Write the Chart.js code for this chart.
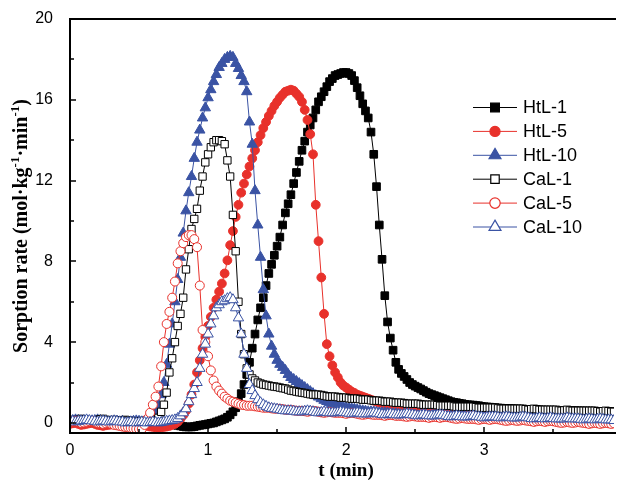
<!DOCTYPE html>
<html><head><meta charset="utf-8">
<script src="https://cdn.jsdelivr.net/npm/chart.js@4.4.1/dist/chart.umd.min.js"></script>
<style>html,body{margin:0;padding:0;background:#fff;overflow:hidden}#wrap{width:621px;height:488px;position:relative}canvas{display:block}</style>
</head><body><div id="wrap"><canvas id="c" width="621" height="488" style="width:621px;height:488px"></canvas></div>
<script>
// ---- data ----
const times = [0,0.02,0.04,0.06,0.08,0.1,0.12,0.14,0.16,0.18,
0.2,0.22,0.24,0.26,0.28,0.3,0.32,0.34,0.36,0.38,
0.4,0.42,0.44,0.46,0.48,0.5,0.52,0.54,0.56,0.58,
0.6,0.62,0.64,0.66,0.68,0.7,0.72,0.74,0.76,0.78,
0.8,0.82,0.84,0.86,0.88,0.9,0.92,0.94,0.96,0.98,
1,1.02,1.04,1.06,1.08,1.1,1.12,1.14,1.16,1.18,
1.2,1.22,1.24,1.26,1.28,1.3,1.32,1.34,1.36,1.38,
1.4,1.42,1.44,1.46,1.48,1.5,1.52,1.54,1.56,1.58,
1.6,1.62,1.64,1.66,1.68,1.7,1.72,1.74,1.76,1.78,
1.8,1.82,1.84,1.86,1.88,1.9,1.92,1.94,1.96,1.98,
2,2.02,2.04,2.06,2.08,2.1,2.12,2.14,2.16,2.18,
2.2,2.22,2.24,2.26,2.28,2.3,2.32,2.34,2.36,2.38,
2.4,2.42,2.44,2.46,2.48,2.5,2.52,2.54,2.56,2.58,
2.6,2.62,2.64,2.66,2.68,2.7,2.72,2.74,2.76,2.78,
2.8,2.82,2.84,2.86,2.88,2.9,2.92,2.94,2.96,2.98,
3,3.02,3.04,3.06,3.08,3.1,3.12,3.14,3.16,3.18,
3.2,3.22,3.24,3.26,3.28,3.3,3.32,3.34,3.36,3.38,
3.4,3.42,3.44,3.46,3.48,3.5,3.52,3.54,3.56,3.58,
3.6,3.62,3.64,3.66,3.68,3.7,3.72,3.74,3.76,3.78,
3.8,3.82,3.84,3.86,3.88,3.9,3.92,3.94];

const htl1 = [0.05,0.08,0.1,0.06,0.05,0.02,0,0.03,0.05,0.08,
0.1,0.07,0.05,0.02,0,0.03,0.05,0.02,0,-0.02,
-0.05,-0.02,0,0.03,0.05,0.02,0,-0.03,-0.05,-0.02,
0,-0.03,-0.05,-0.08,-0.1,-0.07,-0.05,-0.08,-0.1,-0.12,
-0.15,-0.18,-0.2,-0.2,-0.2,-0.18,-0.15,-0.12,-0.1,-0.08,
-0.05,-0.02,0,0.05,0.1,0.15,0.2,0.28,0.4,0.55,
0.75,1.05,1.45,1.9,2.4,3.0,3.7,4.4,5.1,5.7,
6.2,6.8,7.4,7.85,8.3,8.75,9.2,9.8,10.4,10.85,
11.3,11.85,12.4,12.95,13.5,13.95,14.4,14.75,15.1,15.5,
15.9,16.15,16.4,16.65,16.9,17.05,17.2,17.25,17.3,17.35,
17.35,17.3,17.2,16.95,16.6,16.2,15.8,15.45,15.1,14.4,
13.3,11.7,9.8,8.1,6.3,5.0,4.2,3.6,3.0,2.65,
2.45,2.3,2.15,2.0,1.9,1.82,1.75,1.68,1.6,1.52,
1.45,1.4,1.35,1.3,1.25,1.2,1.15,1.1,1.05,1.02,
1.0,0.97,0.95,0.92,0.9,0.89,0.88,0.86,0.85,0.82,
0.8,0.79,0.78,0.76,0.75,0.74,0.73,0.72,0.72,0.71,
0.7,0.69,0.68,0.68,0.67,0.66,0.66,0.65,0.65,0.64,
0.64,0.63,0.63,0.62,0.62,0.62,0.62,0.61,0.61,0.61,
0.6,0.6,0.6,0.6,0.59,0.59,0.58,0.58,0.58,0.58,
0.57,0.57,0.57,0.56,0.56,0.56,0.56,0.55];

const htl5 = [-0.05,-0.02,0,-0.05,-0.1,-0.08,-0.05,-0.02,0,-0.05,
-0.1,-0.12,-0.15,-0.12,-0.1,-0.08,-0.05,-0.08,-0.1,-0.12,
-0.15,-0.18,-0.2,-0.18,-0.15,-0.12,-0.1,-0.12,-0.15,-0.18,
-0.2,-0.22,-0.25,-0.22,-0.2,-0.18,-0.15,-0.1,-0.05,0.05,
0.2,0.38,0.6,0.95,1.4,1.9,2.5,3.1,3.7,4.25,
4.8,5.25,5.7,6.1,6.5,6.9,7.4,8.05,8.8,9.5,
10.2,10.8,11.4,11.85,12.3,12.7,13.1,13.5,13.9,14.25,
14.6,14.9,15.2,15.45,15.7,15.9,16.1,16.25,16.4,16.45,
16.5,16.45,16.3,16.15,15.9,15.5,15.0,14.3,13.3,10.8,
9.0,7.2,5.4,3.9,3.3,2.85,2.5,2.25,2.0,1.85,
1.75,1.65,1.55,1.48,1.4,1.35,1.3,1.25,1.2,1.15,
1.1,1.05,1.0,0.98,0.95,0.92,0.9,0.88,0.85,0.82,
0.8,0.78,0.75,0.72,0.7,0.68,0.65,0.62,0.6,0.58,
0.55,0.55,0.55,0.52,0.5,0.48,0.45,0.48,0.5,0.48,
0.45,0.42,0.4,0.38,0.35,0.38,0.4,0.38,0.35,0.32,
0.3,0.32,0.35,0.32,0.3,0.28,0.25,0.28,0.3,0.28,
0.25,0.22,0.2,0.22,0.25,0.22,0.2,0.18,0.15,0.18,
0.2,0.18,0.15,0.18,0.2,0.18,0.15,0.12,0.1,0.12,
0.15,0.12,0.1,0.12,0.15,0.12,0.1,0.08,0.05,0.08,
0.1,0.08,0.05,0.08,0.1,0.08,0.05,0.08];

const htl10 = [0.1,0.12,0.15,0.12,0.1,0.08,0.05,0.08,0.1,0.12,
0.15,0.12,0.1,0.08,0.05,0.08,0.1,0.08,0.05,0.08,
0,0.02,0.05,0.08,0.1,0.08,0.05,0.08,0.1,0.15,
0.3,0.55,0.9,1.4,2.0,2.9,3.9,4.9,6.0,7.1,
8.2,9.4,10.5,11.4,12.2,13.1,13.9,14.5,15.1,15.6,
16.1,16.5,16.9,17.25,17.6,17.8,18.0,18.1,18.15,18.1,
17.8,17.55,17.2,16.9,16.4,14.9,13.8,11.5,9.8,8.2,
6.6,5.3,4.4,3.8,3.4,3.1,2.9,2.75,2.6,2.4,
2.25,2.15,2.05,1.95,1.85,1.75,1.65,1.55,1.45,1.35,
1.28,1.2,1.12,1.06,1.0,0.95,0.9,0.85,0.8,0.78,
0.75,0.72,0.7,0.68,0.65,0.62,0.6,0.58,0.55,0.55,
0.55,0.52,0.5,0.5,0.5,0.48,0.45,0.45,0.45,0.42,
0.4,0.42,0.45,0.42,0.4,0.38,0.35,0.38,0.4,0.38,
0.35,0.38,0.4,0.38,0.35,0.32,0.3,0.32,0.35,0.32,
0.3,0.32,0.35,0.32,0.3,0.28,0.25,0.28,0.3,0.3,
0.3,0.28,0.25,0.28,0.3,0.28,0.25,0.22,0.2,0.22,
0.25,0.28,0.3,0.28,0.25,0.22,0.2,0.22,0.25,0.22,
0.2,0.22,0.25,0.22,0.2,0.18,0.15,0.18,0.2,0.22,
0.25,0.22,0.2,0.18,0.15,0.18,0.2,0.18,0.15,0.18,
0.2,0.18,0.15,0.12,0.1,0.12,0.15,0.12];

const cal1 = [0.15,0.12,0.1,0.15,0.2,0.18,0.15,0.12,0.1,0.12,
0.15,0.18,0.2,0.15,0.1,0.12,0.15,0.12,0.1,0.12,
0.15,0.12,0.1,0.08,0.05,0.08,0.1,0.08,0.05,0.08,
0.1,0.15,0.25,0.55,0.9,1.5,2.5,3.2,4.0,4.8,
5.4,6.2,7.6,8.6,9.6,10.1,10.6,11.5,12.2,12.9,
13.3,13.65,13.9,14.0,14.0,13.95,13.8,13.0,12.2,10.3,
8.5,6.0,4.4,3.4,2.7,2.4,2.2,2.1,2.0,1.95,
1.9,1.88,1.85,1.82,1.8,1.78,1.75,1.72,1.7,1.65,
1.6,1.58,1.55,1.52,1.5,1.48,1.45,1.42,1.4,1.4,
1.4,1.38,1.35,1.32,1.3,1.3,1.3,1.28,1.25,1.25,
1.25,1.22,1.2,1.2,1.2,1.18,1.15,1.15,1.15,1.12,
1.1,1.1,1.1,1.08,1.05,1.05,1.05,1.02,1.0,1.0,
1.0,0.98,0.95,0.95,0.95,0.95,0.95,0.92,0.9,0.9,
0.9,0.9,0.9,0.88,0.85,0.85,0.85,0.85,0.85,0.82,
0.8,0.8,0.8,0.8,0.8,0.8,0.8,0.78,0.75,0.75,
0.75,0.75,0.75,0.75,0.75,0.72,0.7,0.7,0.7,0.7,
0.7,0.7,0.7,0.7,0.7,0.68,0.65,0.68,0.7,0.68,
0.65,0.65,0.65,0.65,0.65,0.65,0.65,0.62,0.6,0.62,
0.65,0.62,0.6,0.6,0.6,0.6,0.6,0.6,0.6,0.6,
0.6,0.58,0.55,0.58,0.6,0.58,0.55,0.55];

const cal5 = [0.05,0.08,0.1,0.05,0,0.02,0.05,0.08,0.1,0.05,
0,-0.02,-0.05,-0.02,0,-0.05,-0.1,-0.12,-0.15,-0.18,
-0.2,-0.22,-0.25,-0.28,-0.3,-0.3,-0.3,-0.1,0.2,0.5,
0.9,1.3,1.8,2.8,4.0,4.9,5.5,6.2,7.0,7.9,
8.5,8.9,9.2,9.3,9.3,9.1,8.7,6.8,4.6,4.0,
3.3,2.6,2.1,1.8,1.6,1.45,1.3,1.2,1.1,1.05,
1.0,0.95,0.9,0.88,0.85,0.85,0.85,0.82,0.8,0.78,
0.75,0.75,0.75,0.72,0.7,0.7,0.7,0.68,0.65,0.65,
0.65,0.62,0.6,0.6,0.6,0.58,0.55,0.58,0.6,0.58,
0.55,0.52,0.5,0.52,0.55,0.52,0.5,0.5,0.5,0.48,
0.45,0.48,0.5,0.48,0.45,0.42,0.4,0.42,0.45,0.42,
0.4,0.4,0.4,0.38,0.35,0.38,0.4,0.38,0.35,0.35,
0.35,0.32,0.3,0.32,0.35,0.32,0.3,0.3,0.3,0.28,
0.25,0.28,0.3,0.28,0.25,0.28,0.3,0.28,0.25,0.22,
0.2,0.22,0.25,0.22,0.2,0.2,0.2,0.18,0.15,0.18,
0.2,0.18,0.15,0.18,0.2,0.18,0.15,0.12,0.1,0.12,
0.15,0.12,0.1,0.12,0.15,0.12,0.1,0.08,0.05,0.08,
0.1,0.08,0.05,0.08,0.1,0.08,0.05,0.02,0,0.02,
0.05,0.02,0,0.02,0.05,0.02,0,-0.02,-0.05,-0.02,
0,-0.02,-0.05,-0.02,0,-0.02,-0.05,-0.02];

const cal10 = [0.1,0.08,0.05,0.08,0.1,0.12,0.15,0.12,0.1,0.08,
0.05,0.08,0.1,0.08,0.05,0.08,0.1,0.08,0.05,0.05,
0,0.02,0.05,0.02,0,0.02,0.05,0.02,0,0.02,
0.05,0.02,0,0.02,0.05,0.08,0.1,0.12,0.15,0.22,
0.35,0.5,0.7,1.05,1.4,1.7,2.0,2.7,3.4,3.9,
4.4,4.9,5.3,5.7,5.85,6.0,6.05,6.15,6.2,6.1,
5.7,5.2,4.4,3.4,2.7,1.9,1.6,1.35,1.15,1.0,
0.9,0.82,0.75,0.72,0.7,0.68,0.65,0.62,0.6,0.6,
0.6,0.58,0.55,0.55,0.55,0.58,0.6,0.58,0.55,0.52,
0.5,0.52,0.55,0.52,0.5,0.5,0.5,0.52,0.55,0.52,
0.5,0.48,0.45,0.48,0.5,0.48,0.45,0.45,0.45,0.48,
0.5,0.48,0.45,0.42,0.4,0.42,0.45,0.42,0.4,0.4,
0.4,0.42,0.45,0.42,0.4,0.38,0.35,0.38,0.4,0.38,
0.35,0.35,0.35,0.38,0.4,0.38,0.35,0.32,0.3,0.32,
0.35,0.32,0.3,0.3,0.3,0.32,0.35,0.32,0.3,0.28,
0.25,0.28,0.3,0.3,0.3,0.28,0.25,0.28,0.3,0.28,
0.25,0.25,0.25,0.28,0.3,0.28,0.25,0.22,0.2,0.22,
0.25,0.22,0.2,0.22,0.25,0.22,0.2,0.2,0.2,0.2,
0.25,0.22,0.2,0.2,0.2,0.18,0.15,0.18,0.2,0.18,
0.15,0.18,0.2,0.18,0.15,0.15,0.15,0.12];

const seriesNames = ['HtL-1','HtL-5','HtL-10','CaL-1','CaL-5','CaL-10'];
const seriesValues = [htl1, htl5, htl10, cal1, cal5, cal10];
const xTickValues = [0,1,2,3];
const xMinorTicks = [0.5,1.5,2.5,3.5];
const yTickValues = [0,4,8,12,16,20];
const yMinorTicks = [2,6,10,14,18];
const xTitle = 't (min)';
const yTitleParts = [['Sorption rate (mol\u00B7kg',false],['-1',true],['\u00B7min',false],['-1',true],[')',false]];

// ---- styles ----
const RED = '#e8312b', BLUE = '#3a53a4', BLACK = '#000000';
const styles = [
  {color:BLACK, shape:'rect', fill:BLACK, r:5.4},
  {color:RED, shape:'circle', fill:RED, r:4.4},
  {color:BLUE, shape:'triangle', fill:BLUE, r:6.0},
  {color:BLACK, shape:'rect', fill:'#ffffff', r:5.2},
  {color:RED, shape:'circle', fill:'#ffffff', r:4.5},
  {color:BLUE, shape:'triangle', fill:'#ffffff', r:6.0}
];

const datasets = seriesNames.map((name, i) => ({
  label: name,
  data: times.map((t, k) => ({x: t, y: seriesValues[i][k]})),
  borderColor: styles[i].color,
  borderWidth: 1,
  pointStyle: styles[i].shape,
  pointRadius: styles[i].r,
  pointBackgroundColor: styles[i].fill,
  pointBorderColor: styles[i].color,
  pointBorderWidth: 1,
  tension: 0,
  order: seriesNames.length - 1 - i
}));

function drawMarker(ctx, shape, x, y, r) {
  ctx.beginPath();
  if (shape === 'rect') {
    const s = r * Math.SQRT1_2;
    ctx.rect(x - s, y - s, 2 * s, 2 * s);
  } else if (shape === 'circle') {
    ctx.arc(x, y, r, 0, Math.PI * 2);
  } else {
    let a = 0;
    ctx.moveTo(x + Math.sin(a) * r, y - Math.cos(a) * r);
    a += 2 * Math.PI / 3;
    ctx.lineTo(x + Math.sin(a) * r, y - Math.cos(a) * r);
    a += 2 * Math.PI / 3;
    ctx.lineTo(x + Math.sin(a) * r, y - Math.cos(a) * r);
    ctx.closePath();
  }
}

const framePlugin = {
  id: 'frame',
  afterDatasetsDraw(chart) {
    const {ctx, chartArea: a, scales: {x, y}} = chart;
    ctx.save();
    ctx.strokeStyle = '#000';
    ctx.lineWidth = 2;
    ctx.beginPath();
    ctx.moveTo(a.left, a.top); ctx.lineTo(a.left, a.bottom); ctx.lineTo(a.right + 2, a.bottom);
    ctx.moveTo(a.left - 1, a.top); ctx.lineTo(a.right + 2, a.top);
    ctx.stroke();
    ctx.lineWidth = 1.5;
    ctx.beginPath();
    xTickValues.forEach(v => { const px = Math.round(x.getPixelForValue(v)); ctx.moveTo(px, a.bottom); ctx.lineTo(px, a.bottom - 6); });
    xMinorTicks.forEach(v => { const px = Math.round(x.getPixelForValue(v)); ctx.moveTo(px, a.bottom); ctx.lineTo(px, a.bottom - 4); });
    yTickValues.forEach(v => { const py = Math.round(y.getPixelForValue(v)); ctx.moveTo(a.left, py); ctx.lineTo(a.left + 6, py); });
    yMinorTicks.forEach(v => { const py = Math.round(y.getPixelForValue(v)); ctx.moveTo(a.left, py); ctx.lineTo(a.left + 4, py); });
    ctx.stroke();
    ctx.restore();
  },
  afterDraw(chart) {
    const {ctx} = chart;
    ctx.save();
    // legend
    const lx0 = 473, lx1 = 517, mx = 495, tx = 523, ly0 = 107.5, step = 23.9;
    ctx.font = '18px "Liberation Sans", Arial, sans-serif';
    ctx.textBaseline = 'middle';
    ctx.textAlign = 'left';
    seriesNames.forEach((name, i) => {
      const st = styles[i];
      const yy = ly0 + i * step;
      ctx.strokeStyle = st.color;
      ctx.lineWidth = 1;
      ctx.beginPath(); ctx.moveTo(lx0, yy); ctx.lineTo(lx1, yy); ctx.stroke();
      drawMarker(ctx, st.shape, mx, yy, st.r * 1.15);
      ctx.fillStyle = st.fill; ctx.fill();
      ctx.lineWidth = 1.2; ctx.strokeStyle = st.color; ctx.stroke();
      ctx.fillStyle = '#000';
      ctx.fillText(name, tx, yy + 1);
    });
    // x title
    ctx.font = 'bold 19px "Liberation Serif", "Times New Roman", serif';
    ctx.textAlign = 'center';
    ctx.fillStyle = '#000';
    ctx.fillText(xTitle, 346, 471);
    // y title with superscripts
    const mainFont = 'bold 20px "Liberation Serif", "Times New Roman", serif';
    const supFont = 'bold 13px "Liberation Serif", "Times New Roman", serif';
    let total = 0;
    yTitleParts.forEach(([s, sup]) => { ctx.font = sup ? supFont : mainFont; total += ctx.measureText(s).width; });
    ctx.translate(22, 226);
    ctx.rotate(-Math.PI / 2);
    ctx.textAlign = 'left';
    let cx = -total / 2;
    yTitleParts.forEach(([s, sup]) => {
      ctx.font = sup ? supFont : mainFont;
      ctx.fillText(s, cx, sup ? -6 : 0);
      cx += ctx.measureText(s).width;
    });
    ctx.restore();
  }
};

Chart.defaults.color = '#000';
new Chart(document.getElementById('c'), {
  type: 'line',
  data: {datasets},
  plugins: [framePlugin],
  options: {
    responsive: false,
    devicePixelRatio: 1,
    animation: false,
    layout: {padding: {top: 19, right: 0, left: 0, bottom: 0}},
    plugins: {legend: {display: false}, tooltip: {enabled: false}, title: {display: false}},
    scales: {
      x: {
        type: 'linear', min: 0, max: 3.94,
        grid: {display: false}, border: {display: false},
        ticks: {font: {family: '"Liberation Sans", Arial, sans-serif', size: 16}, color: '#000', padding: 0, maxRotation: 0, autoSkip: false},
        afterBuildTicks: s => { s.ticks = xTickValues.map(v => ({value: v})); },
        afterFit: s => { s.height = 55; }
      },
      y: {
        type: 'linear', min: -0.5, max: 20,
        grid: {display: false}, border: {display: false},
        ticks: {font: {family: '"Liberation Sans", Arial, sans-serif', size: 16}, color: '#000', padding: 9, autoSkip: false},
        afterBuildTicks: s => { s.ticks = yTickValues.map(v => ({value: v})); },
        afterFit: s => { s.width = 70; }
      }
    }
  }
});
</script>
</body></html>
